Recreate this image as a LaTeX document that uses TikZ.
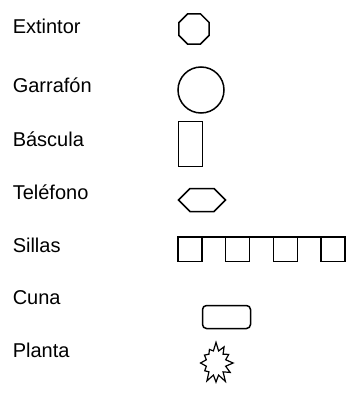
\documentclass[tikz,border=0pt]{standalone}
\usepackage{fontspec}
\setmainfont{Liberation Sans}
\usetikzlibrary{shapes.geometric,shapes.symbols}
\begin{document}
\begin{tikzpicture}[x=1pt,y=-1pt,line width=1.5pt,
  item/.style={anchor=base west,inner sep=0pt,font=\fontsize{20}{24}\selectfont},
  seat/.style={draw,rectangle,inner sep=0pt,minimum size=24pt}]
\useasboundingbox (0,0) rectangle (352,393);
\node[item] (extintorlabel) at (12,34) {Extintor};
\node[item] (garrafonlabel) at (12,93) {Garrafón};
\node[item] (basculalabel) at (12,146) {Báscula};
\node[item] (telefonolabel) at (12,199) {Teléfono};
\node[item] (sillaslabel) at (12,252) {Sillas};
\node[item] (cunalabel) at (12,304) {Cuna};
\node[item] (plantalabel) at (12,357) {Planta};
\node[draw, regular polygon, regular polygon sides=8, inner sep=0pt, minimum size=33pt] (extintor) at (194,29) {};
\node[draw, circle, inner sep=0pt, minimum size=46pt] (garrafon) at (201,90) {};
\node[draw, rectangle, inner sep=0pt, minimum width=24pt, minimum height=45pt] (bascula) at (190.5,144) {};
\node[draw, signal, signal to=east and west, signal pointer angle=90, inner sep=0pt, minimum width=47pt, minimum height=23pt] (telefono) at (202,200) {};
\foreach \i in {0,...,3}
  \node[seat] (silla\i) at (190+47.7*\i,249.5) {};
\draw (silla0.north west) -- (silla3.north east);
\node[draw, rectangle, rounded corners=4pt, inner sep=0pt, minimum width=48pt, minimum height=23pt] (cuna) at (226.5,317) {};
\node[draw, starburst, starburst points=12, starburst point height=9pt, random starburst=7, inner sep=0pt, minimum width=38pt, minimum height=43pt, line width=1.2pt] (planta) at (216,363) {};
\end{tikzpicture}
\end{document}
